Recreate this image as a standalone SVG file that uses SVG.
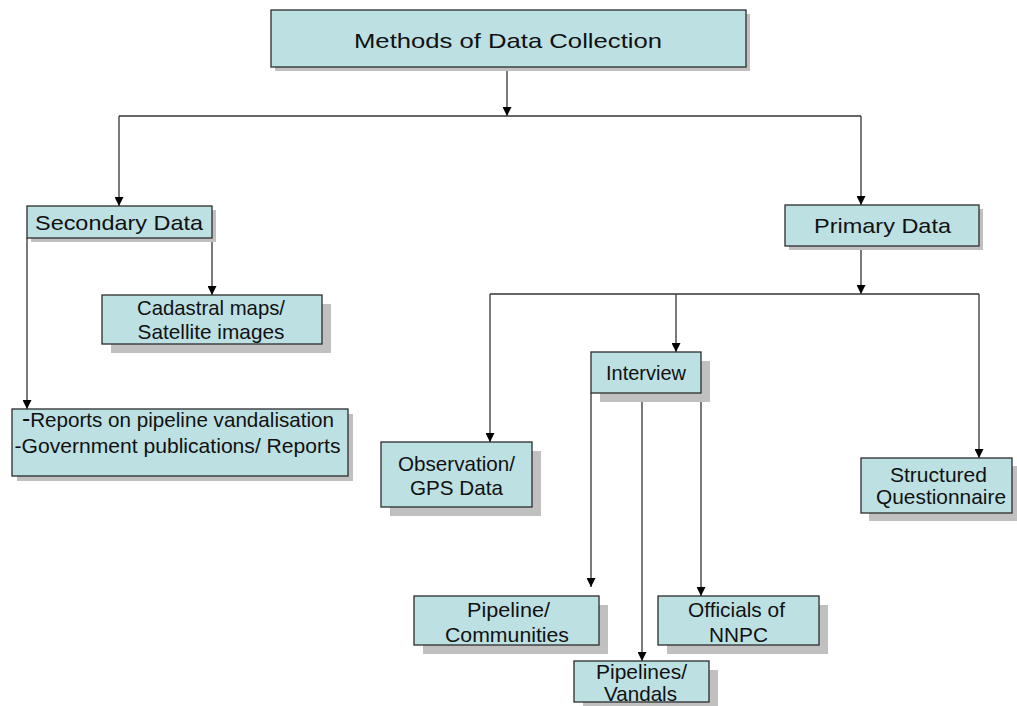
<svg xmlns="http://www.w3.org/2000/svg" width="1017" height="706" viewBox="0 0 1017 706">
<style>
.sh{fill:#c0c0c0}
.bx{fill:#bde0e3;stroke:#2b2b2b;stroke-width:1.3}
.t{font-family:"Liberation Sans",Arial,sans-serif;font-size:21px;fill:#111;text-anchor:middle}
.ln{fill:none;stroke:#333;stroke-width:1.3}
</style>
<defs>
<marker id="ah" viewBox="0 0 10 10" refX="10" refY="5" markerWidth="9" markerHeight="9" markerUnits="userSpaceOnUse" orient="auto">
<path d="M0,0 L10,5 L0,10 Z" fill="#000"/>
</marker>
</defs>
<rect width="1017" height="706" fill="#fff"/>
<g id="connectors">
<path class="ln" d="M507,67 V116" marker-end="url(#ah)"/>
<path class="ln" d="M119,116 H861"/>
<path class="ln" d="M119,116 V206" marker-end="url(#ah)"/>
<path class="ln" d="M861,116 V205" marker-end="url(#ah)"/>
<path class="ln" d="M27,238 V409" marker-end="url(#ah)"/>
<path class="ln" d="M212,238 V295" marker-end="url(#ah)"/>
<path class="ln" d="M861,246 V294" marker-end="url(#ah)"/>
<path class="ln" d="M490,294 H979"/>
<path class="ln" d="M490,294 V442" marker-end="url(#ah)"/>
<path class="ln" d="M676,294 V352" marker-end="url(#ah)"/>
<path class="ln" d="M979,294 V458" marker-end="url(#ah)"/>
<path class="ln" d="M591,393 V587" marker-end="url(#ah)"/>
<path class="ln" d="M642,393 V661" marker-end="url(#ah)"/>
<path class="ln" d="M701,393 V596" marker-end="url(#ah)"/>
</g>
<g id="title">
<rect class="sh" x="275" y="14" width="475" height="57"/>
<rect class="bx" x="271" y="10" width="475" height="57"/>
<text class="t" x="508" y="47.5" font-size="24" textLength="308" lengthAdjust="spacingAndGlyphs">Methods of Data Collection</text>
</g>
<g id="secondary">
<rect class="sh" x="31" y="210" width="185" height="32"/>
<rect class="bx" x="27" y="206" width="185" height="32"/>
<text class="t" x="119" y="230" textLength="168" lengthAdjust="spacingAndGlyphs">Secondary Data</text>
</g>
<g id="primary">
<rect class="sh" x="789" y="209" width="194" height="41"/>
<rect class="bx" x="785" y="205" width="194" height="41"/>
<text class="t" x="882.5" y="233" textLength="137" lengthAdjust="spacingAndGlyphs">Primary Data</text>
</g>
<g id="cadastral">
<rect class="sh" x="111" y="304" width="220" height="49"/>
<rect class="bx" x="102" y="295" width="220" height="49"/>
<text class="t" x="211" y="315" textLength="148" lengthAdjust="spacingAndGlyphs">Cadastral maps/</text>
<text class="t" x="211" y="339" textLength="147" lengthAdjust="spacingAndGlyphs">Satellite images</text>
</g>
<g id="reports">
<rect class="sh" x="17" y="414" width="336" height="67"/>
<rect class="bx" x="12" y="409" width="336" height="67"/>
<text class="t" x="178" y="427" textLength="312" lengthAdjust="spacingAndGlyphs"><tspan font-size="25">-</tspan>Reports on pipeline vandalisation</text>
<text class="t" x="177.5" y="453" textLength="326" lengthAdjust="spacingAndGlyphs">-Government publications/ Reports</text>
</g>
<g id="interview">
<rect class="sh" x="600" y="361" width="110" height="41"/>
<rect class="bx" x="591" y="352" width="110" height="41"/>
<text class="t" x="646" y="380" textLength="80" lengthAdjust="spacingAndGlyphs">Interview</text>
</g>
<g id="observation">
<rect class="sh" x="390" y="451" width="151" height="65"/>
<rect class="bx" x="381" y="442" width="151" height="65"/>
<text class="t" x="456.5" y="471" textLength="117" lengthAdjust="spacingAndGlyphs">Observation/</text>
<text class="t" x="456.5" y="495" textLength="93" lengthAdjust="spacingAndGlyphs">GPS Data</text>
</g>
<g id="structured">
<rect class="sh" x="869" y="466" width="151" height="55"/>
<rect class="bx" x="861" y="458" width="151" height="55"/>
<text class="t" x="938.5" y="482" textLength="97" lengthAdjust="spacingAndGlyphs">Structured</text>
<text class="t" x="941" y="504" textLength="130" lengthAdjust="spacingAndGlyphs">Questionnaire</text>
</g>
<g id="communities">
<rect class="sh" x="423" y="605" width="185" height="49"/>
<rect class="bx" x="414" y="596" width="185" height="49"/>
<text class="t" x="508.5" y="617" textLength="83" lengthAdjust="spacingAndGlyphs">Pipeline/</text>
<text class="t" x="507" y="642" textLength="124" lengthAdjust="spacingAndGlyphs">Communities</text>
</g>
<g id="officials">
<rect class="sh" x="667" y="605" width="161" height="49"/>
<rect class="bx" x="658" y="596" width="161" height="49"/>
<text class="t" x="736.5" y="617" textLength="97" lengthAdjust="spacingAndGlyphs">Officials of</text>
<text class="t" x="738.5" y="642" textLength="59" lengthAdjust="spacingAndGlyphs">NNPC</text>
</g>
<g id="vandals">
<rect class="sh" x="583" y="670" width="135" height="41"/>
<rect class="bx" x="574" y="661" width="135" height="41"/>
<text class="t" x="641.5" y="679" textLength="91" lengthAdjust="spacingAndGlyphs">Pipelines/</text>
<text class="t" x="640.5" y="701" textLength="73" lengthAdjust="spacingAndGlyphs">Vandals</text>
</g>
</svg>
